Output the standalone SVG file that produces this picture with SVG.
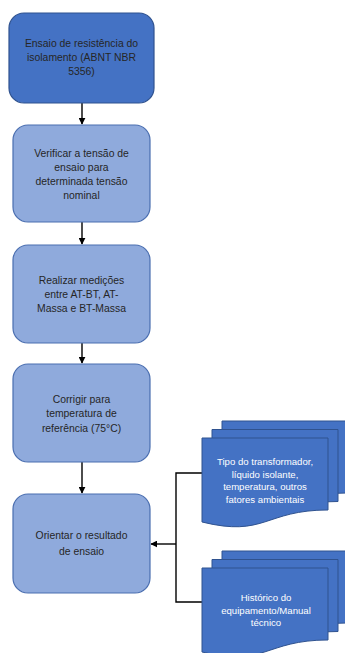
<svg xmlns="http://www.w3.org/2000/svg" width="345" height="653" viewBox="0 0 345 653">
  <defs>
    <marker id="arrow" viewBox="0 0 10 10" refX="9" refY="5" markerWidth="7" markerHeight="7" markerUnits="userSpaceOnUse" orient="auto">
      <path d="M0,0 L10,5 L0,10 Z" fill="#000"/>
    </marker>
    <!-- flowchart document shape, 126 x 90 -->
    <path id="doc" d="M0,0 H126 V72 C63,72 63,99.6 0,84 Z"/>
  </defs>
  <style>
    .step { fill: #8FAADC; stroke: #4A6EB0; stroke-width: 1.2; }
    .start { fill: #4472C4; stroke: #2F528F; stroke-width: 1.2; }
    .docs use { fill: #4472C4; stroke: #2F528F; stroke-width: 1; }
    .label { font-family: "Liberation Sans", Arial, sans-serif; font-size: 10.4px; fill: #262626; text-anchor: middle; }
    .doclabel { font-family: "Liberation Sans", Arial, sans-serif; font-size: 9.6px; fill: #FFFFFF; text-anchor: middle; }
    .conn { fill: none; stroke: #000; stroke-width: 1.4; }
  </style>
  <rect width="345" height="653" fill="#FFFFFF"/>

  <g id="connectors">
    <line class="conn" x1="82" y1="103" x2="82" y2="124" marker-end="url(#arrow)"/>
    <line class="conn" x1="82" y1="222" x2="82" y2="244" marker-end="url(#arrow)"/>
    <line class="conn" x1="82" y1="343" x2="82" y2="363" marker-end="url(#arrow)"/>
    <line class="conn" x1="82" y1="462" x2="82" y2="493" marker-end="url(#arrow)"/>
    <polyline class="conn" points="202,473 176,473 176,602 202,602"/>
    <line class="conn" x1="176" y1="544" x2="151" y2="544" marker-end="url(#arrow)"/>
  </g>

  <g id="node-ensaio">
    <rect class="start" x="9" y="13" width="145" height="90" rx="15"/>
    <text class="label" x="81.5" y="47">Ensaio de resistência do</text>
    <text class="label" x="81.5" y="61">isolamento (ABNT NBR</text>
    <text class="label" x="81.5" y="75">5356)</text>
  </g>

  <g id="node-verificar">
    <rect class="step" x="13" y="125" width="137" height="97" rx="15"/>
    <text class="label" x="81.5" y="157">Verificar a tensão de</text>
    <text class="label" x="81.5" y="171">ensaio para</text>
    <text class="label" x="81.5" y="185">determinada tensão</text>
    <text class="label" x="81.5" y="199">nominal</text>
  </g>

  <g id="node-medicoes">
    <rect class="step" x="13" y="245" width="137" height="98" rx="15"/>
    <text class="label" x="81.5" y="284">Realizar medições</text>
    <text class="label" x="81.5" y="298">entre AT-BT, AT-</text>
    <text class="label" x="81.5" y="312">Massa e BT-Massa</text>
  </g>

  <g id="node-corrigir">
    <rect class="step" x="13" y="364" width="137" height="98" rx="15"/>
    <text class="label" x="81.5" y="402.5">Corrigir para</text>
    <text class="label" x="81.5" y="417">temperatura de</text>
    <text class="label" x="81.5" y="431.5">referência (75°C)</text>
  </g>

  <g id="node-orientar">
    <rect class="step" x="13" y="494" width="137" height="99" rx="15"/>
    <text class="label" x="81.5" y="539">Orientar o resultado</text>
    <text class="label" x="81.5" y="554.5">de ensaio</text>
  </g>

  <g id="node-fatores" class="docs">
    <use href="#doc" x="222" y="421"/>
    <use href="#doc" x="212" y="429.5"/>
    <use href="#doc" x="202" y="438"/>
    <text class="doclabel" x="265" y="465">Tipo do transformador,</text>
    <text class="doclabel" x="265" y="477.5">líquido isolante,</text>
    <text class="doclabel" x="265" y="490">temperatura, outros</text>
    <text class="doclabel" x="265" y="502.5">fatores ambientais</text>
  </g>

  <g id="node-historico" class="docs">
    <use href="#doc" x="222" y="551"/>
    <use href="#doc" x="212" y="559.5"/>
    <use href="#doc" x="202" y="568"/>
    <text class="doclabel" x="266" y="600.5">Histórico do</text>
    <text class="doclabel" x="266" y="613.5">equipamento/Manual</text>
    <text class="doclabel" x="266" y="626">técnico</text>
  </g>
</svg>
